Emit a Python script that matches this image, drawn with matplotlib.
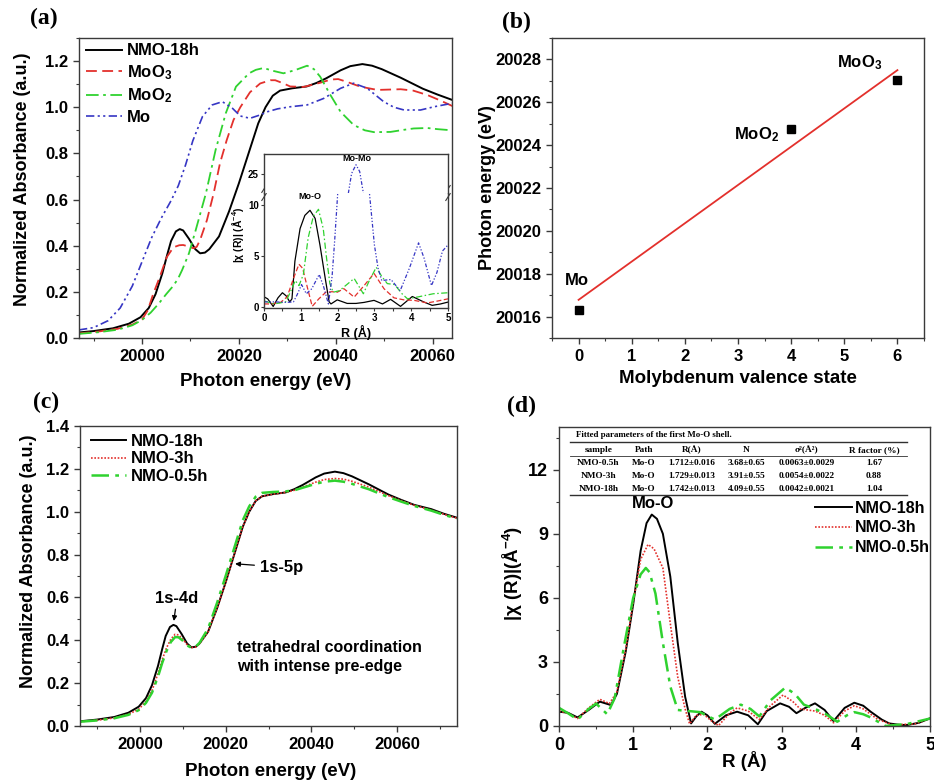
import numpy as np
import matplotlib
matplotlib.use("Agg")
import matplotlib.pyplot as plt
from matplotlib.ticker import MultipleLocator

plt.rcParams['font.family'] = ['Liberation Sans', 'DejaVu Sans']
plt.rcParams['font.weight'] = 'bold'
plt.rcParams['axes.labelweight'] = 'bold'
plt.rcParams['mathtext.fontset'] = 'custom'
plt.rcParams['mathtext.rm'] = 'Liberation Sans:bold'
plt.rcParams['mathtext.it'] = 'Liberation Sans:bold:italic'
plt.rcParams['mathtext.bf'] = 'Liberation Sans:bold'
plt.rcParams['axes.linewidth'] = 1.0
plt.rcParams['axes.edgecolor'] = '#3a3a3a'

## colours
BLACK = '#000000'
RED = '#e3302c'
GREEN = '#2fd22f'
BLUE = '#3636c4'

################################################################################
## data
################################################################################
# (a) / (c) XANES, NMO-18h
nmo18_E = [19986, 19990, 19994, 19997.3, 19999.7, 20001.4, 20002.8, 20004.2, 20005.2, 20006,
           20007, 20007.8, 20008.5, 20009.7, 20011, 20012, 20013, 20013.9, 20015.9, 20018,
           20020, 20022, 20024, 20025.5, 20027, 20028.5, 20031, 20034, 20036, 20038,
           20041, 20043, 20045.5, 20047.5, 20049.5, 20053.4, 20058, 20061, 20064, 20068,
           20071, 20074]
nmo18_mu = [0.022, 0.03, 0.042, 0.062, 0.09, 0.13, 0.19, 0.28, 0.36, 0.42,
            0.462, 0.472, 0.466, 0.43, 0.385, 0.367, 0.37, 0.385, 0.44, 0.55,
            0.67, 0.80, 0.93, 1.00, 1.05, 1.072, 1.082, 1.09, 1.105, 1.125,
            1.16, 1.178, 1.187, 1.18, 1.165, 1.128, 1.08, 1.055, 1.032, 1.012,
            0.99, 0.972]

# (c) XANES, NMO-3h and NMO-0.5h
nmo3_E = [19986, 19990, 19994, 19997.3, 19999.7, 20001.4, 20002.8, 20004.2, 20005.2, 20006.2,
          20007.2, 20008.2, 20009, 20010, 20011, 20012, 20013, 20013.9, 20015.9, 20018,
          20020, 20022, 20024, 20025.5, 20027, 20028.5, 20031, 20034, 20036, 20038,
          20041, 20043, 20045.5, 20047.5, 20049.5, 20053.4, 20058, 20061, 20064, 20068,
          20071, 20074]
nmo3_mu = [0.02, 0.027, 0.038, 0.055, 0.078, 0.115, 0.165, 0.245, 0.31, 0.365,
           0.405, 0.428, 0.425, 0.405, 0.38, 0.366, 0.368, 0.383, 0.44, 0.55,
           0.67, 0.80, 0.93, 1.00, 1.05, 1.072, 1.082, 1.09, 1.10, 1.115,
           1.138, 1.15, 1.155, 1.152, 1.142, 1.115, 1.075, 1.052, 1.03, 1.008,
           0.988, 0.97]
nmo05_E = nmo3_E
nmo05_mu = [0.02, 0.026, 0.036, 0.052, 0.074, 0.108, 0.155, 0.23, 0.295, 0.35,
            0.392, 0.415, 0.414, 0.398, 0.376, 0.365, 0.37, 0.388, 0.455, 0.575,
            0.70, 0.83, 0.96, 1.025, 1.07, 1.088, 1.092, 1.095, 1.10, 1.112,
            1.13, 1.14, 1.145, 1.14, 1.13, 1.105, 1.068, 1.047, 1.027, 1.005,
            0.985, 0.968]

# (a) references
moo3_E = [19987, 19991, 19995, 19998, 20000, 20001.2, 20002.3, 20003.7, 20005.1, 20006.5,
          20007.7, 20008.5, 20009.7, 20010.6, 20011.3, 20012, 20013.4, 20014.8, 20016.1, 20017.5,
          20018.9, 20020.3, 20022.3, 20024.4, 20026.5, 20027.5, 20029, 20030.6, 20033.4, 20036.8,
          20039, 20040.5, 20042.3, 20045.1, 20048.6, 20053.4, 20056, 20058.9, 20061.5, 20064.1]
moo3_mu = [0.02, 0.028, 0.04, 0.058, 0.08, 0.12, 0.19, 0.266, 0.35, 0.393,
           0.402, 0.403, 0.396, 0.389, 0.395, 0.425, 0.51, 0.627, 0.757, 0.858,
           0.945, 1.0, 1.065, 1.103, 1.117, 1.117, 1.105, 1.09, 1.088, 1.106,
           1.12, 1.122, 1.11, 1.089, 1.075, 1.078, 1.072, 1.053, 1.03, 1.005]
moo2_E = [19987, 19991, 19995, 19998, 20000, 20001.8, 20003.5, 20005, 20006.3, 20007.4,
          20008.3, 20009.7, 20011.1, 20013.2, 20015.2, 20017.3, 20019.4, 20022.1, 20023.5, 20025.1,
          20027, 20029.2, 20031.5, 20034.1, 20035.5, 20036.8, 20038.9, 20041, 20043.7, 20046,
          20047.9, 20051.3, 20054, 20056.1, 20058.9, 20061, 20064]
moo2_mu = [0.018, 0.025, 0.036, 0.055, 0.078, 0.11, 0.15, 0.19, 0.222, 0.255,
           0.295, 0.367, 0.468, 0.627, 0.815, 0.974, 1.089, 1.147, 1.162, 1.17,
           1.158, 1.147, 1.16, 1.18, 1.165, 1.132, 1.053, 0.98, 0.923, 0.90,
           0.892, 0.893, 0.902, 0.908, 0.91, 0.905, 0.90]
mo_E = [19987, 19990, 19993, 19995.5, 19998, 20000, 20002, 20004, 20006, 20007.5,
        20009, 20010.5, 20012.5, 20014.5, 20016.6, 20018.7, 20020.3, 20022.3, 20024.6, 20025.8,
        20028, 20030.6, 20034.1, 20037.5, 20041, 20043.7, 20046.5, 20049.9, 20052, 20054.1,
        20057.5, 20060.3, 20064]
mo_mu = [0.035, 0.045, 0.075, 0.13, 0.225, 0.33, 0.435, 0.52, 0.595, 0.66,
         0.75, 0.855, 0.96, 1.01, 1.024, 0.995, 0.962, 0.952, 0.968, 0.98,
         0.993, 1.002, 1.01, 1.038, 1.082, 1.104, 1.082, 1.024, 1.0, 0.988,
         0.988, 1.002, 1.017]

# (a) inset, FT-EXAFS
in18_R = [0, 0.1, 0.25, 0.38, 0.5, 0.6, 0.7, 0.76, 0.84, 0.98, 1.11, 1.25, 1.39, 1.52, 1.66,
          1.77, 1.82, 1.99, 2.26, 2.5, 2.72, 2.99, 3.22, 3.44, 3.71, 4.03, 4.35, 4.57, 4.8, 5.0]
in18_chi = [1.0, 0.8, 0.05, 0.9, 1.4, 1.1, 0.5, 0.8, 4.5, 7.7, 9.0, 9.5, 8.7, 6.1, 2.9,
            0.5, 0.3, 0.7, 0.35, 0.35, 0.45, 0.65, 0.3, 0.75, 0.06, 1.03, 0.48, 0.16, 0.3, 0.48]
inmoo3_R = [0, 0.2, 0.45, 0.63, 0.8, 0.95, 1.05, 1.18, 1.31, 1.49, 1.68, 1.85, 1.99, 2.17,
            2.45, 2.72, 2.99, 3.26, 3.53, 3.8, 4.08, 4.44, 4.71, 5.0]
inmoo3_chi = [0.3, 0.3, 0.45, 1.0, 2.8, 4.2, 3.8, 1.9, 0.06, 0.8, 1.45, 1.5, 1.45, 1.8,
              0.97, 2.1, 3.3, 1.8, 0.9, 0.7, 0.65, 0.4, 0.58, 0.8]
inmoo2_R = [0, 0.27, 0.59, 0.72, 0.85, 0.95, 1.07, 1.2, 1.34, 1.48, 1.61, 1.7, 1.79, 1.88,
            2.05, 2.25, 2.45, 2.7, 2.85, 3.05, 3.2, 3.35, 3.55, 3.75, 3.9, 4.2, 4.6, 5.0]
inmoo2_chi = [0.6, 0.3, 0.5, 1.5, 2.6, 2.1, 3.2, 6.8, 8.9, 9.6, 7.7, 4.8, 2.3, 1.45,
              1.6, 2.2, 2.8, 1.3, 2.5, 3.9, 3.0, 2.3, 2.2, 1.3, 0.8, 1.0, 1.3, 1.4]
inmo_R = [0, 0.3, 0.6, 0.8, 0.9, 1.02, 1.15, 1.3, 1.5, 1.62, 1.75, 1.85, 1.92, 2.0, 2.1,
          2.25, 2.38, 2.5, 2.6, 2.7, 2.78, 2.87, 3.0, 3.1, 3.2, 3.45, 3.7, 3.95, 4.2, 4.35,
          4.55, 4.7, 4.85, 5.0]
inmo_chi = [0.5, 0.5, 0.45, 0.5, 1.2, 2.2, 1.3, 1.8, 3.2, 2.0, 0.3, 3.0, 6.5, 11.0, 16.0,
            22.0, 25.0, 25.9, 25.2, 23.0, 17.0, 11.0, 6.1, 3.8, 2.6, 2.7, 1.6, 3.8, 6.3, 4.8,
            2.1, 3.4, 5.5, 6.1]

# (b) edge position vs valence
valence = [0, 4, 6]
edge_E = [20016.3, 20024.75, 20027.05]
edge_names = ['Mo', 'MoO$_2$', 'MoO$_3$']
fit_x = [0, 6]
fit_y = [20016.78, 20027.5]

# (d) FT-EXAFS of the samples
d18_R = [0, 0.12, 0.25, 0.4, 0.55, 0.7, 0.78, 0.9, 1.0, 1.1, 1.18, 1.25, 1.32, 1.4, 1.5,
         1.6, 1.7, 1.78, 1.85, 1.92, 2.0, 2.1, 2.25, 2.4, 2.55, 2.68, 2.8, 2.98, 3.1, 3.2,
         3.32, 3.45, 3.58, 3.7, 3.85, 3.98, 4.1, 4.2, 4.35, 4.45, 4.6, 4.7, 4.85, 5.0]
d18_chi = [0.67, 0.62, 0.4, 0.75, 1.14, 0.98, 1.5, 3.5, 5.7, 8.2, 9.5, 9.9, 9.7, 9.0, 7.0,
           3.9, 1.37, 0.12, 0.45, 0.67, 0.5, 0.1, 0.5, 0.67, 0.5, 0.08, 0.7, 1.06, 0.9, 0.6,
           0.85, 1.06, 0.75, 0.23, 0.85, 1.09, 0.95, 0.67, 0.3, 0.12, 0.05, 0.05, 0.15, 0.36]
d3_R = [0, 0.12, 0.25, 0.4, 0.55, 0.68, 0.78, 0.9, 1.0, 1.1, 1.2, 1.28, 1.4, 1.5, 1.6,
        1.7, 1.76, 1.85, 1.95, 2.05, 2.15, 2.3, 2.4, 2.55, 2.7, 2.85, 3.02, 3.15, 3.25, 3.45,
        3.58, 3.7, 3.85, 3.98, 4.1, 4.3, 4.5, 4.8, 5.0]
d3_chi = [0.7, 0.6, 0.35, 0.85, 1.25, 1.05, 1.6, 3.6, 5.8, 7.8, 8.5, 8.3, 7.4, 4.8, 2.3,
          0.8, 0.1, 0.5, 0.55, 0.25, 0.02, 0.6, 0.85, 0.7, 0.3, 0.95, 1.45, 1.15, 0.8, 0.7,
          0.5, 0.15, 0.7, 0.95, 0.8, 0.3, 0.05, 0.1, 0.35]
d05_R = [0, 0.12, 0.25, 0.4, 0.5, 0.65, 0.75, 0.88, 1.0, 1.1, 1.17, 1.22, 1.3, 1.4, 1.5,
         1.6, 1.75, 1.9, 2.1, 2.3, 2.45, 2.58, 2.7, 2.85, 3.05, 3.18, 3.3, 3.45, 3.6, 3.75,
         3.88, 3.98, 4.1, 4.2, 4.4, 4.7, 5.0]
d05_chi = [0.85, 0.6, 0.3, 0.8, 1.05, 0.55, 1.3, 3.8, 6.0, 7.1, 7.4, 7.2, 6.2, 3.9, 1.85,
           0.75, 0.7, 0.65, 0.3, 0.8, 1.0, 0.8, 0.45, 1.2, 1.8, 1.5, 1.0, 0.8, 0.55, 0.2,
           0.5, 0.65, 0.55, 0.4, 0.0, 0.1, 0.35]

# (d) fitted parameters table
tab_title = 'Fitted parameters of the first Mo-O shell.'
tab_header = ['sample', 'Path', 'R(Å)', 'N', 'σ²(Å²)', 'R factor (%)']
tab_rows = [['NMO-0.5h', 'Mo-O', '1.712±0.016', '3.68±0.65', '0.0063±0.0029', '1.67'],
            ['NMO-3h', 'Mo-O', '1.729±0.013', '3.91±0.55', '0.0054±0.0022', '0.88'],
            ['NMO-18h', 'Mo-O', '1.742±0.013', '4.09±0.55', '0.0042±0.0021', '1.04']]

################################################################################
## figure
################################################################################
W, H = 934, 784
fig = plt.figure(figsize=(W/100, H/100), dpi=100)

def px_axes(l, t, r, b):
    # pixel box -> figure axes
    return fig.add_axes([l/W, 1-b/H, (r-l)/W, (b-t)/H])

def style(ax, xmaj, xmin, ymaj, ymin, size=12):
    ax.xaxis.set_major_locator(MultipleLocator(xmaj))
    ax.xaxis.set_minor_locator(MultipleLocator(xmin))
    ax.yaxis.set_major_locator(MultipleLocator(ymaj))
    ax.yaxis.set_minor_locator(MultipleLocator(ymin))
    ax.tick_params(which='both', direction='out', top=False, right=False,
                   labelsize=size, color='#3a3a3a')
    ax.tick_params(which='major', length=4.5, width=1.0)
    ax.tick_params(which='minor', length=2.5, width=0.8)

dash = (0, (6, 3))
dashdot = (0, (7, 2.5, 1.5, 2.5))
dashdotdot = (0, (5, 2, 1.3, 2, 1.3, 2))
dotted = (0, (1, 1))

# ---------------- (a)
axA = px_axes(79, 38, 452, 338)
axA.plot(nmo18_E, nmo18_mu, color=BLACK, lw=1.4, label='NMO-18h')
axA.plot(moo3_E, moo3_mu, color=RED, lw=1.3, ls=dash, label='MoO$_3$')
axA.plot(moo2_E, moo2_mu, color=GREEN, lw=1.3, ls=dashdot, label='MoO$_2$')
axA.plot(mo_E, mo_mu, color=BLUE, lw=1.2, ls=dashdotdot, label='Mo')
axA.set_xlim(19987, 20064)
axA.set_ylim(0, 1.3)
style(axA, 20, 10, 0.2, 0.1)
axA.set_ylabel('Normalized Absorbance (a.u.)', fontsize=13)
axA.set_xlabel('Photon energy (eV)', fontsize=13.5)
axA.yaxis.set_label_coords(-0.13, 0.53)
axA.xaxis.set_label_coords(0.5, -0.118)
axA.legend(loc='upper left', bbox_to_anchor=(0.019, 0.982), frameon=False, fontsize=12,
           handlelength=2.15, handletextpad=0.3, labelspacing=0.28,
           borderpad=0, borderaxespad=0)

# inset (broken y axis)
inL, inR = 264, 448
axLo = px_axes(inL, 193, inR, 308)
axHi = px_axes(inL, 154, inR, 193)
for ax in (axLo, axHi):
    ax.set_facecolor('white')
    ax.plot(in18_R, in18_chi, color=BLACK, lw=0.9)
    ax.plot(inmoo3_R, inmoo3_chi, color=RED, lw=0.9, ls=(0, (4, 2)))
    ax.plot(inmoo2_R, inmoo2_chi, color=GREEN, lw=0.9, ls=(0, (5, 2, 1.2, 2)))
    ax.plot(inmo_R, inmo_chi, color=BLUE, lw=0.9, ls=(0, (3, 1.5, 1, 1.5, 1, 1.5)))
    ax.set_xlim(0, 5)
    ax.tick_params(which='both', direction='out', top=False, right=False,
                   labelsize=7, length=2.5, width=0.8, pad=1.2, color='#3a3a3a')
axLo.set_ylim(-0.1, 11.2)
axHi.set_ylim(23, 27)
axLo.spines['top'].set_visible(False)
axHi.spines['bottom'].set_visible(False)
axLo.xaxis.set_major_locator(MultipleLocator(1))
axLo.xaxis.set_minor_locator(MultipleLocator(0.5))
axLo.yaxis.set_major_locator(MultipleLocator(5))
axHi.set_yticks([25])
axHi.set_xticks([])
axLo.set_xlabel('R (Å)', fontsize=9, labelpad=1)
axLo.set_ylabel('|χ (R)| (Å$^{-4}$)', fontsize=7.5, labelpad=1)
axLo.yaxis.set_label_coords(-0.1, 0.64)
axLo.text(1.25, 10.4, 'Mo-O', fontsize=6.5, ha='center', va='bottom')
axHi.text(2.52, 26.5, 'Mo-Mo', fontsize=6.5, ha='center', va='center')
for xb in (0, 1):
    for dy in (-0.035, 0.035):
        axLo.plot([xb - 0.012, xb + 0.012], [1 + dy - 0.03, 1 + dy + 0.03],
                  transform=axLo.transAxes, color='#3a3a3a', lw=0.8, clip_on=False)

# ---------------- (b)
axB = px_axes(552, 38, 924, 338)
axB.plot(fit_x, fit_y, color=RED, lw=1.3)
axB.plot(valence, edge_E, 's', color=BLACK, ms=6)
axB.set_xlim(-0.5, 6.5)
axB.set_ylim(20015, 20029)
style(axB, 1, 0.5, 2, 1)
axB.yaxis.set_major_formatter(matplotlib.ticker.FormatStrFormatter('%d'))
axB.set_ylabel('Photon energy (eV)', fontsize=13)
axB.set_xlabel('Molybdenum valence state', fontsize=13.5)
axB.yaxis.set_label_coords(-0.15, 0.5)
axB.xaxis.set_label_coords(0.5, -0.107)
label_xy = [(-0.04, 20017.7), (3.34, 20024.5), (5.28, 20027.85)]
for name, (lx, ly) in zip(edge_names, label_xy):
    axB.text(lx, ly, name, fontsize=12, ha='center', va='center')

# ---------------- (c)
axC = px_axes(80, 426, 457, 726)
axC.plot(nmo18_E, nmo18_mu, color=BLACK, lw=1.4, label='NMO-18h')
axC.plot(nmo3_E, nmo3_mu, color=RED, lw=1.2, ls=dotted, label='NMO-3h')
axC.plot(nmo05_E, nmo05_mu, color=GREEN, lw=1.8, ls=dashdot, label='NMO-0.5h')
axC.set_xlim(19986, 20074)
axC.set_ylim(0, 1.4)
style(axC, 20, 10, 0.2, 0.1)
axC.set_ylabel('Normalized Absorbance (a.u.)', fontsize=13)
axC.set_xlabel('Photon energy (eV)', fontsize=13.5)
axC.yaxis.set_label_coords(-0.115, 0.548)
axC.xaxis.set_label_coords(0.505, -0.123)
axC.legend(loc='upper left', bbox_to_anchor=(0.028, 0.975), frameon=False, fontsize=12,
           handlelength=2.15, handletextpad=0.28, labelspacing=0.17,
           borderpad=0, borderaxespad=0)
axC.annotate('1s-4d', xy=(20007.9, 0.49), xytext=(20008.6, 0.593), fontsize=12,
             ha='center', va='center',
             arrowprops=dict(arrowstyle='-|>', color=BLACK, lw=0.9, mutation_scale=7,
                             shrinkA=9, shrinkB=0))
axC.annotate('1s-5p', xy=(20022.2, 0.757), xytext=(20028, 0.741), fontsize=12,
             ha='left', va='center',
             arrowprops=dict(arrowstyle='-|>', color=BLACK, lw=0.9, mutation_scale=7,
                             shrinkA=2, shrinkB=0))
axC.text(20022.6, 0.322, 'tetrahedral coordination\nwith intense pre-edge', fontsize=11.5,
         ha='left', va='center', linespacing=1.25)

# ---------------- (d)
axD = px_axes(559, 427, 930, 726)
axD.plot(d18_R, d18_chi, color=BLACK, lw=1.4, label='NMO-18h')
axD.plot(d3_R, d3_chi, color=RED, lw=1.2, ls=dotted, label='NMO-3h')
axD.plot(d05_R, d05_chi, color=GREEN, lw=1.8, ls=dashdot, label='NMO-0.5h')
axD.set_xlim(0, 5)
axD.set_ylim(0, 14)
style(axD, 1, 0.5, 3, 1.5, size=13)
axD.set_ylabel('|χ (R)|(Å$^{-4}$)', fontsize=13.5)
axD.set_xlabel('R (Å)', fontsize=13.5)
axD.yaxis.set_label_coords(-0.092, 0.51)
axD.xaxis.set_label_coords(0.5, -0.085)
axD.legend(loc='upper left', bbox_to_anchor=(0.69, 0.7535), frameon=False, fontsize=11.5,
           handlelength=2.3, handletextpad=0.2, labelspacing=0.3,
           borderpad=0, borderaxespad=0)
axD.text(1.27, 10.4, 'Mo-O', fontsize=12, ha='center', va='center')

serif = ['Liberation Serif', 'DejaVu Serif']
axD.text(0.046, 0.973, tab_title, transform=axD.transAxes, fontsize=6.4, family=serif,
         weight='bold', ha='left', va='center')
col_x = [0.106, 0.229, 0.357, 0.505, 0.667, 0.849]
row_y = [0.879, 0.836, 0.793]
for cx, h in zip(col_x, tab_header):
    axD.text(cx, 0.923, h, transform=axD.transAxes, fontsize=6.7, family=serif,
             weight='bold', ha='center', va='center')
for ry, row in zip(row_y, tab_rows):
    for cx, cell in zip(col_x, row):
        axD.text(cx, ry, cell, transform=axD.transAxes, fontsize=6.7, family=serif,
                 weight='bold', ha='center', va='center')
for ly, lw in [(0.951, 1.0), (0.904, 0.6), (0.773, 1.0)]:
    axD.plot([0.03, 0.937], [ly, ly], transform=axD.transAxes, color='#303030', lw=lw)

# panel letters
for lab, lx, ly in [('(a)', 30, 8), ('(b)', 502, 12), ('(c)', 33, 392), ('(d)', 507, 396)]:
    fig.text(lx/W, 1-ly/H, lab, fontsize=17, family=serif, weight='bold', ha='left', va='top')

fig.savefig('out.png', dpi=100)
